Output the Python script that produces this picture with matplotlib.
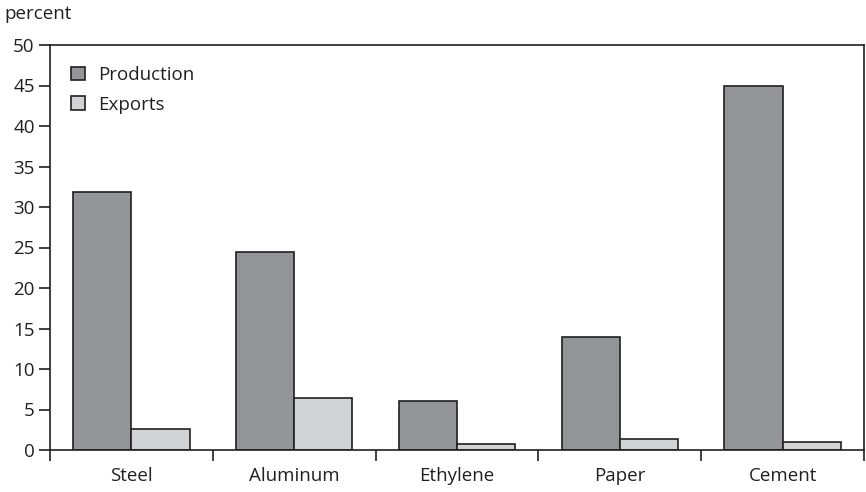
import numpy as np
import matplotlib.pyplot as plt
from matplotlib.patches import Patch

plt.rcParams['font.family'] = ['Open Sans', 'DejaVu Sans']

categories = ['Steel', 'Aluminum', 'Ethylene', 'Paper', 'Cement']
production = [31.8, 24.5, 6.0, 13.9, 45.0]
exports = [2.6, 6.4, 0.7, 1.3, 1.0]

ink = '#231f20'
fs = 13.5
fig = plt.figure(figsize=(8.66, 4.92), dpi=100)
ax = fig.add_axes([50 / 866, 1 - 450 / 492, 814 / 866, 405 / 492])

x = np.arange(len(categories))
w = 0.358
ax.bar(x - w / 2, production, w, color='#939598', edgecolor=ink, linewidth=1.2, label='Production')
ax.bar(x + w / 2, exports, w, color='#d1d3d4', edgecolor=ink, linewidth=1.2, label='Exports')

ax.set_xlim(-0.5, len(categories) - 0.5)
ax.set_ylim(0, 50)
ax.set_yticks(range(0, 51, 5))

# category labels in the middle, tick marks on the boundaries
ax.set_xticks(x)
ax.set_xticklabels(categories)
ax.set_xticks(np.arange(len(categories) + 1) - 0.5, minor=True)
ax.tick_params(axis='x', which='major', length=0, pad=12, labelsize=fs, colors=ink)
ax.tick_params(axis='x', which='minor', length=8, width=1.2, direction='out', color=ink)
ax.tick_params(axis='y', length=8, width=1.2, direction='out', labelsize=fs, colors=ink, pad=3)

for s in ax.spines.values():
    s.set_color(ink)
    s.set_linewidth(1.2)

fig.text(4 / 866, 1 - 14 / 492, 'percent', fontsize=fs, color=ink, va='center', ha='left')

handles = [Patch(facecolor='#939598', edgecolor=ink, linewidth=1.2),
           Patch(facecolor='#d1d3d4', edgecolor=ink, linewidth=1.2)]
leg = ax.legend(handles, ['Production', 'Exports'], loc='upper left', frameon=False,
                bbox_to_anchor=(0.005, 0.99), fontsize=fs, handlelength=0.75,
                handleheight=0.75, handletextpad=0.7, labelspacing=0.62)
for t in leg.get_texts():
    t.set_color(ink)

fig.savefig('out.png', dpi=100)
